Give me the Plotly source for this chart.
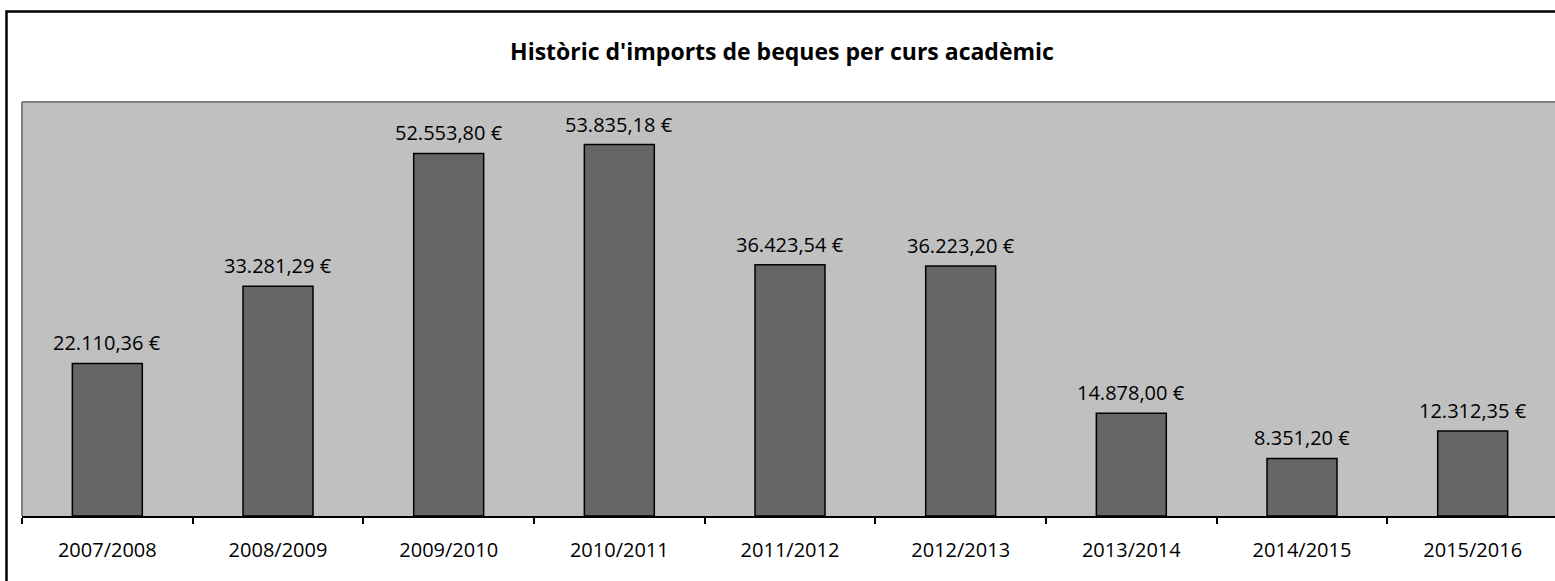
import plotly.graph_objects as go

courses = ["2007/2008", "2008/2009", "2009/2010", "2010/2011", "2011/2012",
           "2012/2013", "2013/2014", "2014/2015", "2015/2016"]
amounts = [22110.36, 33281.29, 52553.80, 53835.18, 36423.54,
           36223.20, 14878.00, 8351.20, 12312.35]
title_text = "Històric d'imports de beques per curs acadèmic"


def fmt_eur(v):
    s = f"{v:,.2f}"
    s = s.replace(",", "X").replace(".", ",").replace("X", ".")
    return s + " €"


labels = [fmt_eur(v) for v in amounts]

FONT = "Open Sans"

fig = go.Figure()
fig.add_trace(go.Bar(
    x=courses, y=amounts,
    marker=dict(color="#666666", line=dict(color="#000000", width=1.5)),
    hoverinfo="skip",
))

annotations = [
    dict(x=c, y=v, xref="x", yref="y", text=t, showarrow=False,
         yanchor="bottom", xanchor="center", yshift=5,
         font=dict(family=FONT, size=20, color="#000000"))
    for c, v, t in zip(courses, amounts, labels)
]

fig.update_layout(
    width=1558, height=581,
    margin=dict(l=22, r=0, t=102, b=65),
    paper_bgcolor="#FFFFFF",
    plot_bgcolor="#C0C0C0",
    bargap=0.59,
    showlegend=False,
    font=dict(family=FONT, size=20, color="#000000"),
    title=dict(text="<b>" + title_text + "</b>", x=782 / 1558, xref="container",
               xanchor="center",
               y=1 - 52 / 581, yref="container", yanchor="middle",
               font=dict(family=FONT, size=23, color="#000000")),
    annotations=annotations,
    xaxis=dict(
        range=[-0.5, 8.5], showgrid=False, zeroline=False,
        showline=True, linecolor="#000000", linewidth=2,
        ticks="outside", tickson="boundaries", ticklen=6, tickwidth=2,
        tickcolor="#000000", ticklabelstandoff=15,
        tickfont=dict(family=FONT, size=20, color="#000000"),
        fixedrange=True,
    ),
    yaxis=dict(
        range=[0, 60000], showgrid=False, zeroline=False,
        showticklabels=False, ticks="", showline=False,
        fixedrange=True,
    ),
    shapes=[
        # plot area border (top and left)
        dict(type="line", xref="paper", yref="paper", x0=0, x1=1.01, y0=1, y1=1,
             line=dict(color="#808080", width=2), layer="above"),
        dict(type="line", xref="paper", yref="paper", x0=0, x1=0, y0=0, y1=1,
             line=dict(color="#808080", width=2), layer="above"),
        # outer chart frame
        dict(type="rect", xref="paper", yref="paper",
             x0=-0.0101, x1=1.1, y0=-0.5, y1=1.2186,
             line=dict(color="#000000", width=2.5)),
    ],
)

fig.write_html(
    "out.html",
    config={"displayModeBar": False, "staticPlot": True},
    post_script="document.body.style.margin='0';document.body.style.overflow='hidden';",
)
